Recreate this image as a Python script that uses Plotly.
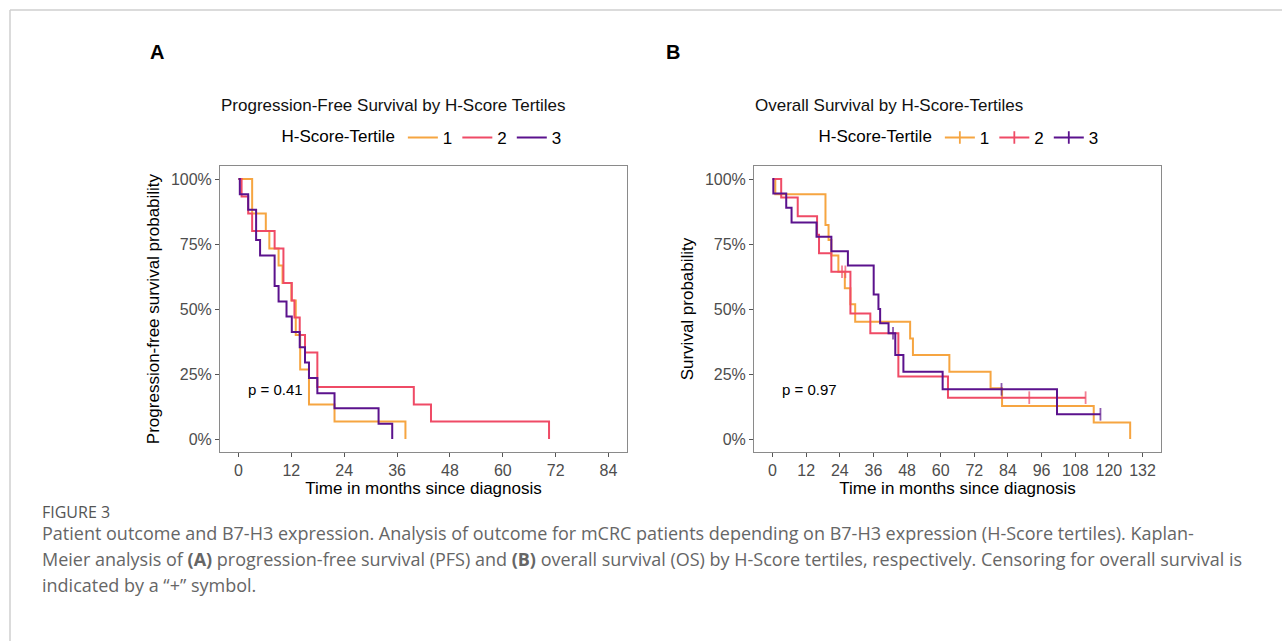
import plotly.graph_objects as go

# ---------------- data ----------------
tertiles = ["1", "2", "3"]
colors = ["#F6A541", "#EF4B66", "#5B128D"]

# Panel A: progression-free survival (months, survival probability)
pfs_t1_time = [0, 3.1, 6.2, 7.0, 9.1, 10.0, 12.0, 13.0, 14.0, 16.0, 21.8, 37.9]
pfs_t1_surv = [1.0, 0.867, 0.8, 0.733, 0.667, 0.6, 0.533, 0.4, 0.267, 0.133, 0.067, 0.0]

pfs_t2_time = [0, 0.7, 2.2, 3.1, 8.2, 10.2, 12.1, 12.7, 13.9, 15.1, 17.9, 39.8, 43.7, 70.5]
pfs_t2_surv = [1.0, 0.933, 0.867, 0.8, 0.733, 0.6, 0.533, 0.467, 0.4, 0.333, 0.2, 0.133, 0.067, 0.0]

pfs_t3_time = [0, 0.3, 2.2, 4.0, 4.9, 8.2, 9.1, 10.9, 12.1, 13.9, 15.1, 16.0, 17.9, 21.8, 31.8, 34.9]
pfs_t3_surv = [1.0, 0.941, 0.882, 0.765, 0.706, 0.588, 0.529, 0.471, 0.412, 0.353, 0.294, 0.235,
               0.176, 0.118, 0.059, 0.0]

# Panel B: overall survival (months, survival probability, censored flag)
os_t1_time = [0, 1.0, 18.9, 20.0, 21.0, 23.5, 25.8, 27.8, 29.5, 49.1, 50.1, 63.1, 77.8, 81.9, 114.6, 127.6]
os_t1_surv = [1.0, 0.941, 0.823, 0.765, 0.706, 0.643, 0.58, 0.518, 0.451, 0.387, 0.323, 0.259, 0.195,
              0.127, 0.063, 0.0]
os_t1_cens = [0] * 16

os_t2_time = [0, 3.1, 9.0, 15.9, 16.6, 21.0, 24.8, 26.0, 27.8, 34.9, 44.9, 62.6, 91.6, 111.7]
os_t2_surv = [1.0, 0.929, 0.857, 0.786, 0.714, 0.643, 0.643, 0.643, 0.483, 0.407, 0.24, 0.159, 0.159, 0.159]
os_t2_cens = [0, 0, 0, 0, 0, 0, 1, 1, 0, 0, 0, 0, 1, 1]

os_t3_time = [0, 0.3, 4.9, 6.8, 15.7, 21.0, 26.9, 36.1, 37.8, 38.4, 41.4, 43.0, 43.8, 46.7, 60.7, 81.7,
              101.5, 117.0]
os_t3_surv = [1.0, 0.944, 0.889, 0.833, 0.778, 0.722, 0.667, 0.556, 0.5, 0.445, 0.407, 0.407, 0.323,
              0.259, 0.191, 0.191, 0.095, 0.095]
os_t3_cens = [0, 0, 0, 0, 0, 0, 0, 0, 0, 0, 0, 1, 0, 0, 0, 1, 0, 1]

pfs_x_ticks = list(range(0, 85, 12))
os_x_ticks = list(range(0, 133, 12))
y_ticks = [0, 0.25, 0.5, 0.75, 1.0]
y_tick_text = ["0%", "25%", "50%", "75%", "100%"]
p_values = ["p = 0.41", "p = 0.97"]

# ---------------- figure ----------------
W, H = 1282, 641
FONT = "Liberation Sans, Arial, Helvetica, sans-serif"
CAP_FONT = "Open Sans, Liberation Sans, sans-serif"

def px_x(v):
    return v / W

def px_y(v):
    return 1 - v / H

fig = go.Figure()

pfs = [(pfs_t1_time, pfs_t1_surv), (pfs_t2_time, pfs_t2_surv), (pfs_t3_time, pfs_t3_surv)]
for (t, s), name, c in zip(pfs, tertiles, colors):
    fig.add_trace(go.Scatter(x=t, y=s, mode="lines", name=name, line=dict(color=c, width=2, shape="hv"),
                             xaxis="x", yaxis="y", legend="legend"))

os_ = [(os_t1_time, os_t1_surv, os_t1_cens), (os_t2_time, os_t2_surv, os_t2_cens),
       (os_t3_time, os_t3_surv, os_t3_cens)]
for (t, s, cflag), name, c in zip(os_, tertiles, colors):
    fig.add_trace(go.Scatter(x=t, y=s, mode="lines+markers", name=name, showlegend=False,
                             line=dict(color=c, width=2, shape="hv"),
                             marker=dict(symbol="line-ns", size=[9 if f else 0 for f in cflag],
                                         color=c, line=dict(color=c, width=1.8)),
                             xaxis="x2", yaxis="y2"))
# legend keys for panel B (line with censoring "+")
for name, c in zip(tertiles, colors):
    fig.add_trace(go.Scatter(x=[None], y=[None], mode="lines+markers", name=name,
                             line=dict(color=c, width=2),
                             marker=dict(symbol="line-ns", size=9, color=c, line=dict(color=c, width=1.8)),
                             xaxis="x2", yaxis="y2", legend="legend2"))

axis_common = dict(showline=True, mirror=True, linecolor="#8a8a8a", linewidth=1,
                   ticks="outside", ticklen=4, tickwidth=1, tickcolor="#555555",
                   showgrid=False, zeroline=False,
                   tickfont=dict(family=FONT, size=16, color="#4d4d4d"))

dom_y = [px_y(452), px_y(166)]
fig.update_layout(
    width=W, height=H, margin=dict(l=0, r=0, t=0, b=0),
    paper_bgcolor="white", plot_bgcolor="white",
    font=dict(family=FONT, color="#000000"),
    xaxis=dict(domain=[px_x(220), px_x(627)], range=[-4.2, 88.2], tickvals=pfs_x_ticks,
               title=dict(text="Time in months since diagnosis", font=dict(size=17, color="#000"), standoff=3),
               anchor="y", **axis_common),
    yaxis=dict(domain=dom_y, range=[-0.05, 1.05], tickvals=y_ticks, ticktext=y_tick_text,
               title=dict(text="Progression-free survival probability", font=dict(size=17, color="#000"),
                          standoff=6),
               anchor="x", **axis_common),
    xaxis2=dict(domain=[px_x(754), px_x(1161)], range=[-6.6, 138.6], tickvals=os_x_ticks,
                title=dict(text="Time in months since diagnosis", font=dict(size=17, color="#000"), standoff=3),
                anchor="y2", **axis_common),
    yaxis2=dict(domain=dom_y, range=[-0.05, 1.05], tickvals=y_ticks, ticktext=y_tick_text,
                title=dict(text="Survival probability", font=dict(size=17, color="#000"), standoff=6),
                anchor="x2", **axis_common),
    legend=dict(orientation="h", x=px_x(423), xanchor="center", y=px_y(138), yanchor="middle",
                title=dict(text="H-Score-Tertile", font=dict(size=17, color="#000")),
                font=dict(size=17, color="#000"), itemwidth=30, bgcolor="rgba(0,0,0,0)"),
    legend2=dict(orientation="h", x=px_x(960), xanchor="center", y=px_y(138), yanchor="middle",
                 title=dict(text="H-Score-Tertile", font=dict(size=17, color="#000")),
                 font=dict(size=17, color="#000"), itemwidth=30, bgcolor="rgba(0,0,0,0)"),
    showlegend=True,
)

annotations = [
    dict(text="<b>A</b>", x=px_x(157), y=px_y(52), font=dict(size=20)),
    dict(text="<b>B</b>", x=px_x(673), y=px_y(52), font=dict(size=20)),
    dict(text="Progression-Free Survival by H-Score Tertiles", x=px_x(219), y=px_y(105),
         xanchor="left", font=dict(size=17, color="#111")),
    dict(text="Overall Survival by H-Score-Tertiles", x=px_x(753), y=px_y(105),
         xanchor="left", font=dict(size=17, color="#111")),
    dict(text="FIGURE 3", x=px_x(40), y=px_y(512), xanchor="left",
         font=dict(family=CAP_FONT, size=16, color="#555")),
    dict(text="Patient outcome and B7-H3 expression. Analysis of outcome for mCRC patients depending on "
              "B7-H3 expression (H-Score tertiles). Kaplan-",
         x=px_x(40), y=px_y(533), xanchor="left", font=dict(family=CAP_FONT, size=18, color="#666")),
    dict(text="Meier analysis of <b>(A)</b> progression-free survival (PFS) and <b>(B)</b> overall survival "
              "(OS) by H-Score tertiles, respectively. Censoring for overall survival is",
         x=px_x(40), y=px_y(559), xanchor="left", font=dict(family=CAP_FONT, size=18, color="#666")),
    dict(text="indicated by a “+” symbol.", x=px_x(40), y=px_y(585), xanchor="left",
         font=dict(family=CAP_FONT, size=18, color="#666")),
]
for a in annotations:
    a.update(xref="paper", yref="paper", showarrow=False, yanchor="middle")
    a.setdefault("xanchor", "center")

annotations.append(dict(text=p_values[0], x=1.6, y=0.19, xref="x", yref="y", showarrow=False,
                        xanchor="left", yanchor="middle", font=dict(size=15, color="#000")))
annotations.append(dict(text=p_values[1], x=2.5, y=0.19, xref="x2", yref="y2", showarrow=False,
                        xanchor="left", yanchor="middle", font=dict(size=15, color="#000")))
fig.update_layout(annotations=annotations)

# page frame lines (decoration of the source page)
fig.update_layout(shapes=[
    dict(type="line", xref="paper", yref="paper", x0=px_x(10), x1=1, y0=px_y(10), y1=px_y(10),
         line=dict(color="#cfcfcf", width=1.5)),
    dict(type="line", xref="paper", yref="paper", x0=px_x(10), x1=px_x(10), y0=px_y(10), y1=0,
         line=dict(color="#cfcfcf", width=1.5)),
])

fig.write_html("out.html")
